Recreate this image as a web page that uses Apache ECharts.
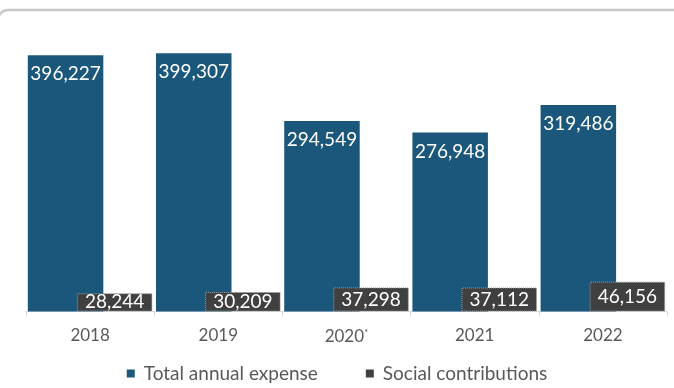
<!DOCTYPE html>
<html>
<head>
<meta charset="utf-8">
<script src="https://cdn.jsdelivr.net/npm/echarts@6/dist/echarts.min.js"></script>
<style>
  html, body { margin: 0; padding: 0; background: #ffffff; }
  #chart { width: 674px; height: 388px; }
</style>
</head>
<body>
<div id="chart"></div>
<script>
// Yearly figures
const years = ['2018', '2019', '2020*', '2021', '2022'];
const totalAnnualExpense = [396227, 399307, 294549, 276948, 319486];
const socialContributions = [28244, 30209, 37298, 37112, 46156];

const FONT = 'Lato, "Open Sans", sans-serif';
const fmt = v => v.toLocaleString('en-US');

const chart = echarts.init(document.getElementById('chart'), null, { renderer: 'canvas' });

chart.setOption({
  animation: false,
  textStyle: { fontFamily: FONT },
  graphic: [{
    type: 'rect',
    silent: true,
    shape: { x: -2, y: 10, width: 700, height: 500, r: 10 },
    style: { fill: 'none', stroke: '#c8c8c8', lineWidth: 2.5 }
  }],
  grid: { left: 26, right: 7, top: 20.5, bottom: 76.5, containLabel: false },
  legend: {
    bottom: 0,
    left: 'center',
    itemWidth: 8,
    itemHeight: 8,
    itemGap: 48,
    icon: 'rect',
    itemStyle: { borderWidth: 0 },
    textStyle: { color: '#595959', fontSize: 19, fontFamily: FONT, padding: [0, 0, 0, 4] },
    data: ['Total annual expense', 'Social contributions']
  },
  xAxis: {
    type: 'category',
    data: years,
    axisLine: { lineStyle: { color: '#d9d9d9', width: 1 } },
    axisTick: { show: true, length: 5, lineStyle: { color: '#d9d9d9' } },
    axisLabel: {
      margin: 16,
      color: '#595959',
      fontSize: 17,
      fontFamily: FONT,
      formatter: v => v.indexOf('*') >= 0 ? v.replace('*', '') + '{s|*}' : v,
      rich: {
        s: { fontSize: 10, color: '#595959', verticalAlign: 'top', padding: [0, 0, 8, 0] }
      }
    }
  },
  yAxis: {
    type: 'value',
    min: 0,
    max: 450000,
    show: false,
    splitLine: { show: false }
  },
  series: [
    {
      name: 'Total annual expense',
      type: 'bar',
      data: totalAnnualExpense,
      barWidth: 75.5,
      barGap: '-35%',
      itemStyle: { color: '#1a577a' },
      label: {
        show: true,
        position: 'insideTop',
        distance: 9,
        color: '#ffffff',
        fontSize: 19,
        lineHeight: 20,
        fontFamily: FONT,
        formatter: p => fmt(p.value)
      }
    },
    {
      name: 'Social contributions',
      type: 'bar',
      data: socialContributions,
      barWidth: 75.5,
      itemStyle: {
        color: '#404040',
        borderColor: '#9a9a9a',
        borderWidth: 1,
        borderType: 'dotted'
      },
      label: {
        show: true,
        position: 'inside',
        color: '#ffffff',
        fontSize: 19,
        fontFamily: FONT,
        formatter: p => fmt(p.value)
      }
    }
  ]
});
</script>
</body>
</html>
